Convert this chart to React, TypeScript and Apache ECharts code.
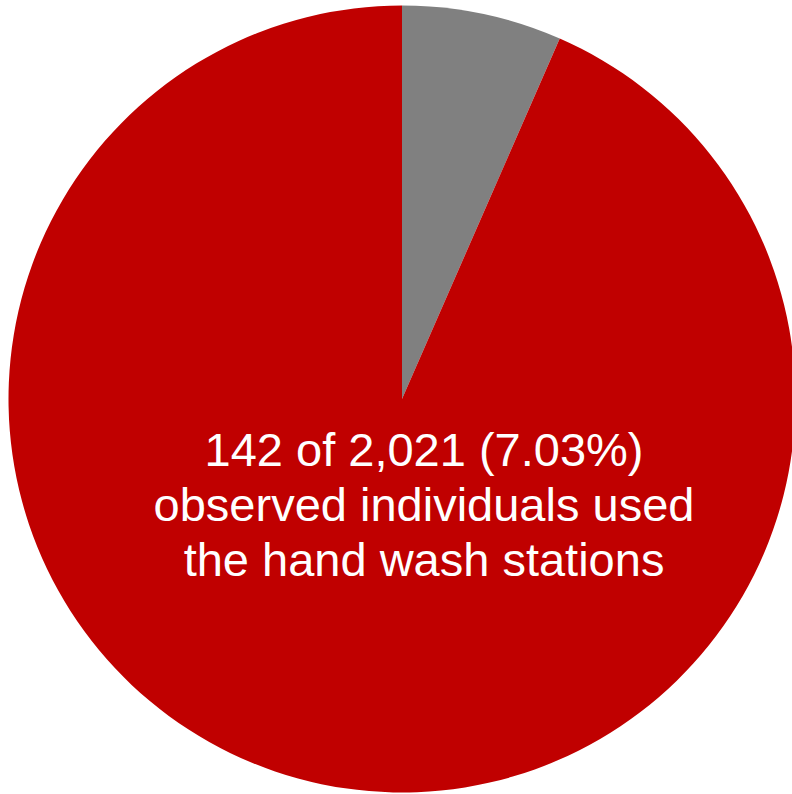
import React, { useEffect, useRef } from "react";
import * as echarts from "echarts";

const categories = ["Used hand wash stations", "Did not use"];
const values = [142, 2021];
const colors = ["#808080", "#C00000"];
const annotationLines = [
  "142 of 2,021 (7.03%)",
  "observed individuals used",
  "the hand wash stations",
];

export default function App() {
  const ref = useRef<HTMLDivElement>(null);
  useEffect(() => {
    if (!ref.current) return;
    const chart = echarts.init(ref.current, null, { renderer: "svg" });
    chart.setOption({
      animation: false,
      backgroundColor: "#ffffff",
      series: [
        {
          type: "pie",
          center: [402, 399],
          radius: [0, 393.5],
          startAngle: 90,
          clockwise: true,
          label: { show: false },
          labelLine: { show: false },
          emphasis: { disabled: true },
          itemStyle: { borderWidth: 0 },
          data: categories.map((c, i) => ({
            name: c,
            value: values[i],
            itemStyle: { color: colors[i] },
          })),
        },
      ],
      graphic: [
        {
          type: "text",
          x: 424,
          y: 504,
          z: 100,
          zlevel: 1,
          style: {
            text: annotationLines.join("\n"),
            fill: "#ffffff",
            font: "47px 'Liberation Sans', Arial, sans-serif",
            lineHeight: 55,
            align: "center",
            verticalAlign: "middle",
          },
        },
      ],
    });
    return () => chart.dispose();
  }, []);
  return (
    <div
      ref={ref}
      style={{ position: "absolute", left: 0, top: 0, width: 792, height: 794 }}
    />
  );
}
